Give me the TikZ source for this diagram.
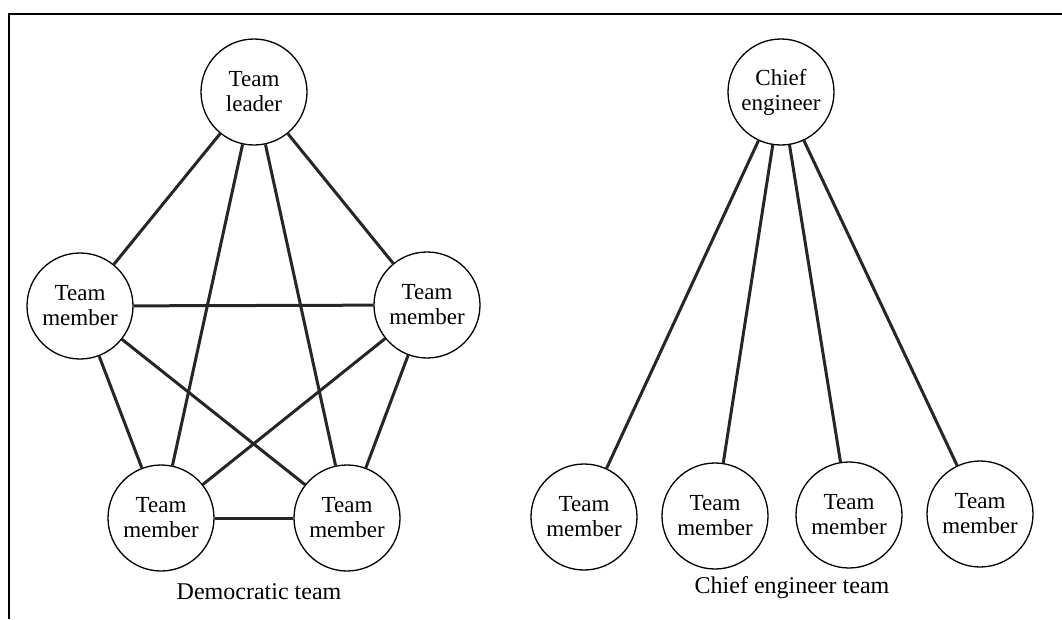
\documentclass[tikz,border=0pt]{standalone}
\usepackage{fontspec}
\setmainfont{Liberation Serif}
\begin{document}
\begin{tikzpicture}[x=1pt,y=-1pt,
  person/.style={circle,draw,line width=1.3pt,minimum size=106pt,inner sep=0pt,
    align=center,font=\fontsize{23}{25}\selectfont},
  link/.style={line width=3pt,draw=black!85},
  caption/.style={font=\fontsize{24}{26}\selectfont}]
  \useasboundingbox (0,0) rectangle (1062,619);
  % frame edges
  \draw[line width=2.2pt] (1062,14) -- (9,14) -- (9,619);

  % democratic team
  \node[person] (L)  at (254,92)  {Team\\leader};
  \node[person] (M1) at (80,306)  {Team\\member};
  \node[person] (M2) at (427,305) {Team\\member};
  \node[person] (M3) at (161,518) {Team\\member};
  \node[person] (M4) at (347,518) {Team\\member};
  \foreach \a/\b in {L/M1,L/M2,L/M3,L/M4,M1/M2,M1/M3,M1/M4,M2/M3,M2/M4,M3/M4}
    \draw[link] (\a) -- (\b);
  \node[caption] (dcap) at (259,592) {Democratic team};

  % chief engineer team
  \node[person] (C)  at (781,92)  {Chief\\engineer};
  \node[person] (E1) at (584,517) {Team\\member};
  \node[person] (E2) at (715,516) {Team\\member};
  \node[person] (E3) at (849,515) {Team\\member};
  \node[person] (E4) at (980,514) {Team\\member};
  \foreach \b in {E1,E2,E3,E4}
    \draw[link] (C) -- (\b);
  \node[caption] (ccap) at (792,588) {Chief engineer team};
\end{tikzpicture}
\end{document}
